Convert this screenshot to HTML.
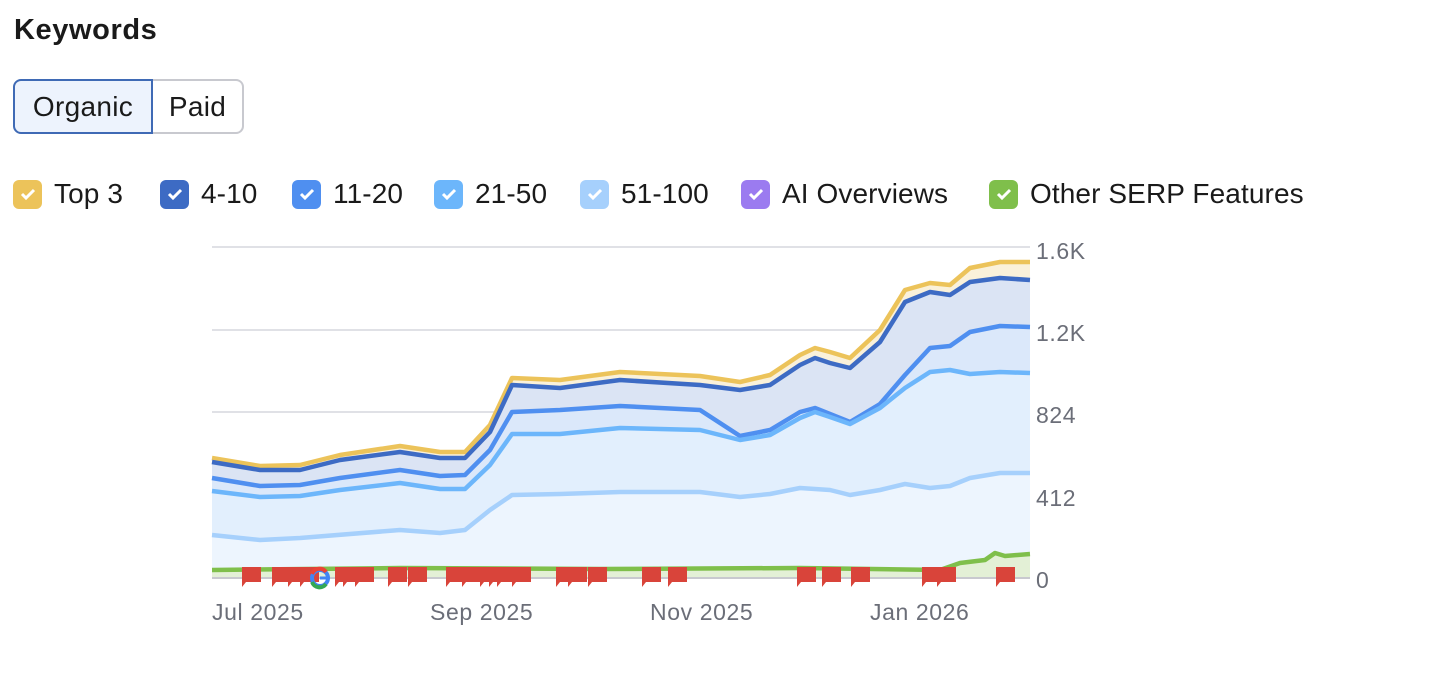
<!DOCTYPE html>
<html><head><meta charset="utf-8"><style>
body{margin:0;background:#fff;font-family:"Liberation Sans",sans-serif;color:#1a1a1a;width:1454px;height:694px;overflow:hidden;position:relative}
h1{position:absolute;left:14px;top:14px;margin:0;font-size:29px;font-weight:bold;letter-spacing:0.6px}
.btns{position:absolute;left:13px;top:79px;height:53px;display:flex}
.b{box-sizing:border-box;height:55px;font-size:28px;display:flex;align-items:center;justify-content:center;letter-spacing:0.3px}
.b1{width:140px;border:2px solid #3f6ab5;background:#edf3fd;border-radius:8px 0 0 8px}
.b2{width:91px;border:2px solid #c8c9cf;border-left:none;border-radius:0 8px 8px 0}
.leg{position:absolute;top:178px;left:0;font-size:28px;letter-spacing:0.1px}
.it{position:absolute;display:flex;align-items:center;white-space:nowrap;top:0;height:32px}
.cb{width:29px;height:29px;border-radius:6px;margin-right:12px;display:flex;align-items:center;justify-content:center}
.ax{position:absolute;font-size:23px;color:#6b6e78;letter-spacing:0.6px}
</style></head><body>
<h1>Keywords</h1>
<div class="btns"><div class="b b1">Organic</div><div class="b b2">Paid</div></div>
<div class="leg">
<div class="it" style="left:13px"><div class="cb" style="background:#ecc35a"><svg width="16" height="12"><path d="M2 6l4 4 8-8" stroke="#fff" stroke-width="3" fill="none"/></svg></div>Top 3</div>
<div class="it" style="left:160px"><div class="cb" style="background:#3d6bc4"><svg width="16" height="12"><path d="M2 6l4 4 8-8" stroke="#fff" stroke-width="3" fill="none"/></svg></div>4-10</div>
<div class="it" style="left:292px"><div class="cb" style="background:#4f8ff0"><svg width="16" height="12"><path d="M2 6l4 4 8-8" stroke="#fff" stroke-width="3" fill="none"/></svg></div>11-20</div>
<div class="it" style="left:434px"><div class="cb" style="background:#6cb6fb"><svg width="16" height="12"><path d="M2 6l4 4 8-8" stroke="#fff" stroke-width="3" fill="none"/></svg></div>21-50</div>
<div class="it" style="left:580px"><div class="cb" style="background:#a6d0fc"><svg width="16" height="12"><path d="M2 6l4 4 8-8" stroke="#fff" stroke-width="3" fill="none"/></svg></div>51-100</div>
<div class="it" style="left:741px"><div class="cb" style="background:#9b7bf0"><svg width="16" height="12"><path d="M2 6l4 4 8-8" stroke="#fff" stroke-width="3" fill="none"/></svg></div>AI Overviews</div>
<div class="it" style="left:989px"><div class="cb" style="background:#7fbf4b"><svg width="16" height="12"><path d="M2 6l4 4 8-8" stroke="#fff" stroke-width="3" fill="none"/></svg></div>Other SERP Features</div>
</div>
<svg id="ch" width="1454" height="694" style="position:absolute;left:0;top:0"></svg>
<div class="ax" style="left:1036px;top:238px">1.6K</div>
<div class="ax" style="left:1036px;top:320px">1.2K</div>
<div class="ax" style="left:1036px;top:402px">824</div>
<div class="ax" style="left:1036px;top:485px">412</div>
<div class="ax" style="left:1036px;top:567px">0</div>
<div class="ax" style="left:212px;top:599px">Jul 2025</div>
<div class="ax" style="left:430px;top:599px">Sep 2025</div>
<div class="ax" style="left:650px;top:599px">Nov 2025</div>
<div class="ax" style="left:870px;top:599px">Jan 2026</div>
<script>
const S=[
{c:'#ecc35a',f:'#faf1da',p:[[212,458],[260,466],[300,465],[340,455],[400,446],[440,452],[465,452],[490,425],[512,378],[560,380],[620,372],[700,376],[740,382],[770,375],[800,355],[815,348],[830,352],[850,358],[880,330],[905,290],[930,283],[950,285],[970,268],[1000,262],[1030,262]]},
{c:'#3d6bc4',f:'#dbe4f4',p:[[212,462],[260,470],[300,470],[340,460],[400,452],[440,458],[465,458],[490,432],[512,385],[560,388],[620,380],[700,385],[740,390],[770,385],[800,365],[815,358],[830,363],[850,368],[880,342],[905,302],[930,292],[950,295],[970,282],[1000,278],[1030,280]]},
{c:'#4f8ff0',f:'#dbe8fa',p:[[212,478],[260,486],[300,485],[340,478],[400,470],[440,476],[465,475],[490,450],[512,412],[560,410],[620,406],[700,410],[740,436],[770,430],[800,412],[815,408],[830,414],[850,422],[880,404],[905,375],[930,348],[950,346],[970,332],[1000,326],[1030,327]]},
{c:'#6cb6fb',f:'#e2effd',p:[[212,491],[260,497],[300,496],[340,490],[400,483],[440,489],[465,489],[490,465],[512,434],[560,434],[620,428],[700,430],[740,440],[770,435],[800,418],[815,412],[830,417],[850,424],[880,408],[905,388],[930,372],[950,370],[970,374],[1000,372],[1030,373]]},
{c:'#a6d0fc',f:'#edf5fe',p:[[212,535],[260,540],[300,538],[400,530],[440,533],[465,530],[490,510],[512,495],[560,494],[620,492],[700,492],[740,497],[770,494],[800,488],[830,490],[850,495],[880,490],[905,484],[930,488],[950,486],[970,478],[1000,473],[1030,473]]},
{c:'#7fbf4b',f:'#e3f0d6',p:[[212,570],[400,568],[600,569],[800,568],[940,570],[960,563],[985,560],[995,553],[1005,556],[1030,554]]}
];
const ch=document.getElementById('ch');let h='';
[247,330,412,495].forEach(y=>h+=`<line x1="212" x2="1030" y1="${y}" y2="${y}" stroke="#e0e1e6" stroke-width="2"/>`);
S.forEach(s=>{const d=s.p.map(q=>q.join(',')).join(' L');h+=`<path d="M${d} L1030,578 L212,578Z" fill="${s.f}"/>`;});
h+=`<line x1="212" x2="1030" y1="578" y2="578" stroke="#c8c9cf" stroke-width="2"/>`;
S.forEach(s=>{const d=s.p.map(q=>q.join(',')).join(' L');h+=`<path d="M${d}" fill="none" stroke="${s.c}" stroke-width="4.5" stroke-linejoin="round"/>`;});
[242,272,288,300,335,343,355,388,408,446,462,480,489,497,512,556,568,588,642,668,797,822,851,922,937,996].forEach(x=>{h+=`<path d="M${x},567 h19 v15 h-15 l-4,5Z" fill="#d9443a"/>`;});
h+=`<circle cx="320" cy="578" r="8" fill="none" stroke="#4285f4" stroke-width="4"/><path d="M312,574 A8,8 0 0 1 326,572" fill="none" stroke="#ea4335" stroke-width="4"/><path d="M312,582 A8,8 0 0 0 326,584" fill="none" stroke="#34a853" stroke-width="4"/><path d="M320,578 h8" stroke="#4285f4" stroke-width="3"/>`;
ch.innerHTML=h;
</script>
</body></html>
